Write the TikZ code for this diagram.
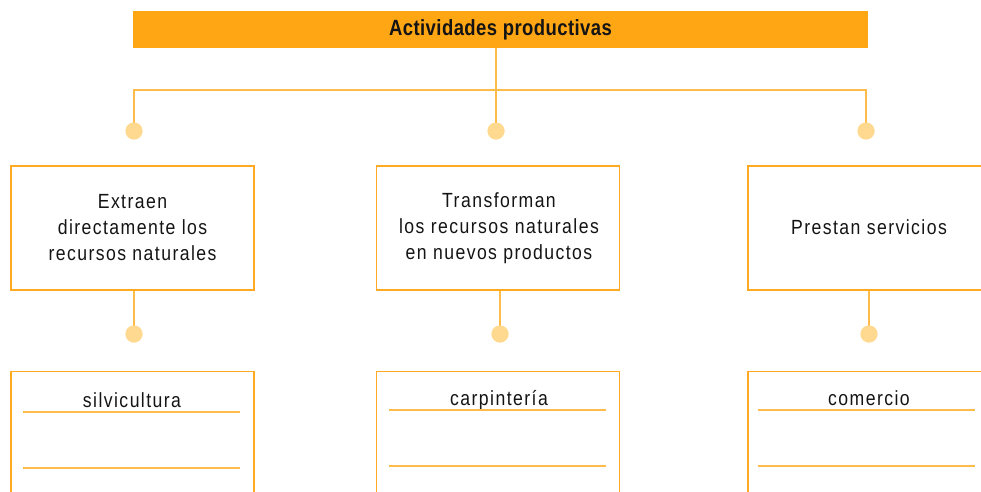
\documentclass[tikz,border=0pt]{standalone}
\usepackage{fontspec}
\setmainfont{Liberation Sans}
\newfontfamily\bodyfont{Liberation Sans}[FakeStretch=0.86,LetterSpace=7.0]
\newfontfamily\titlefont{Liberation Sans}[FakeStretch=0.84,LetterSpace=2.0]
\definecolor{barorange}{HTML}{FFA614}
\definecolor{boxorange}{HTML}{FFAA22}
\definecolor{lineorange}{HTML}{FFBC4A}
\definecolor{dotfill}{HTML}{FFD98F}
\definecolor{inkcol}{HTML}{141414}
\tikzset{
  titlebar/.style={fill=barorange, draw=none, minimum width=735pt, minimum height=37pt, inner sep=0pt,
    font=\titlefont\bfseries\fontsize{22}{26}\selectfont, text=inkcol},
  catbox/.style={draw=boxorange, line width=1.3pt, minimum width=243pt, minimum height=124pt, inner sep=0pt},
  listbox/.style={draw=boxorange, line width=1.3pt, minimum width=243pt, minimum height=140pt, inner sep=0pt, anchor=north},
  boxtext/.style={align=center, font=\bodyfont\fontsize{20.5}{26}\selectfont, text=inkcol, inner sep=0pt},
  conn/.style={draw=lineorange, line width=1.2pt},
  rule/.style={draw=lineorange, line width=1.4pt},
  dot/.style={circle, fill=dotfill, draw=none, minimum size=17pt, inner sep=0pt},
}
\begin{document}
\begin{tikzpicture}[x=1pt,y=-1pt]
\useasboundingbox (0,0) rectangle (981,491);
\clip (0,0) rectangle (981,491);
% title
\node[titlebar] (title) at (500.5,29.5) {Actividades productivas};
% first row dots
\node[dot] (d1) at (134,131) {};
\node[dot] (d2) at (496,131) {};
\node[dot] (d3) at (866,131) {};
\coordinate (hub) at (496,90);
\draw[conn] (title.south -| d2) -- (d2.center);
\draw[conn] (d1.center) -- (d1.center |- hub) -- (d3.center |- hub) -- (d3.center);
\fill[dotfill] (d1) circle (8.5pt) (d2) circle (8.5pt) (d3) circle (8.5pt);
% category boxes
\node[catbox] (b1) at (132.5,228) {};
\node[catbox] (b2) at (498,228) {};
\node[catbox] (b3) at (869.5,228) {};
\node[boxtext] (t1) at (132.5,228) {Extraen\\directamente los\\recursos naturales};
\node[boxtext] (t2) at (499,228) {Transforman\\los recursos naturales\\en nuevos productos};
\node[boxtext] (t3) at (869,227) {Prestan servicios};
% second row dots
\node[dot] (e1) at (134,334) {};
\node[dot] (e2) at (500,334) {};
\node[dot] (e3) at (869,334) {};
\draw[conn] (b1.south -| e1) -- (e1.center);
\draw[conn] (b2.south -| e2) -- (e2.center);
\draw[conn] (b3.south -| e3) -- (e3.center);
\fill[dotfill] (e1) circle (8.5pt) (e2) circle (8.5pt) (e3) circle (8.5pt);
% list boxes
\node[listbox] (l1) at (132.5,371) {};
\node[listbox] (l2) at (498,371) {};
\node[listbox] (l3) at (869.5,371) {};
\node[boxtext, anchor=base] (s1) at (132,407) {silvicultura};
\node[boxtext, anchor=base] (s2) at (499,405) {carpintería};
\node[boxtext, anchor=base] (s3) at (869,405) {comercio};
\draw[rule] (23,412) -- (240,412);
\draw[rule] (23,468) -- (240,468);
\draw[rule] (389,410) -- (606,410);
\draw[rule] (389,466) -- (606,466);
\draw[rule] (758,410) -- (975,410);
\draw[rule] (758,466) -- (975,466);
\end{tikzpicture}
\end{document}
